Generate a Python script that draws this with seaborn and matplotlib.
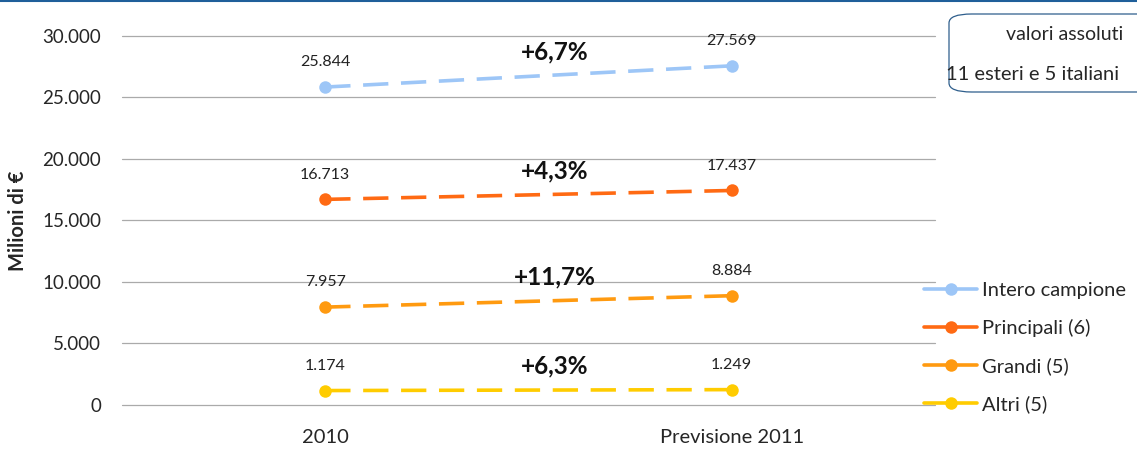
import matplotlib
matplotlib.use("Agg")
import matplotlib.pyplot as plt
import matplotlib.ticker as mticker
from matplotlib.lines import Line2D
from matplotlib.patches import FancyBboxPatch
import seaborn as sns
import pandas as pd

# data
anni = ["2010", "Previsione 2011"]
serie = ["Intero campione", "Principali (6)", "Grandi (5)", "Altri (5)"]
valori_2010 = [25844, 16713, 7957, 1174]
valori_2011 = [27569, 17437, 8884, 1249]
variazioni = ["+6,7%", "+4,3%", "+11,7%", "+6,3%"]
colori = ["#9DC6F7", "#FF6A13", "#FF9A10", "#FFCC00"]

rows = []
for s, a, b in zip(serie, valori_2010, valori_2011):
    rows.append({"serie": s, "x": 0, "valore": a})
    rows.append({"serie": s, "x": 1, "valore": b})
df = pd.DataFrame(rows)

sns.set_style("white")
plt.rcParams["font.family"] = ["Lato", "DejaVu Sans"]

fig = plt.figure(figsize=(11.37, 4.49), dpi=100)
ax = fig.add_axes([0.1073, 0.098, 0.715, 0.822])

sns.lineplot(data=df, x="x", y="valore", hue="serie", palette=colori,
             hue_order=serie, marker="o", markersize=9, markeredgewidth=0,
             linewidth=2.6, linestyle=(0, (7, 3.5)), legend=False, ax=ax)

def fmt(v):
    return f"{v:,.0f}".replace(",", ".")

for s, a, b, p in zip(serie, valori_2010, valori_2011, variazioni):
    ax.annotate(fmt(a), (0, a), xytext=(0, 15), textcoords="offset points",
                ha="center", fontsize=11.5, color="#222222")
    ax.annotate(fmt(b), (1, b), xytext=(0, 15), textcoords="offset points",
                ha="center", fontsize=11.5, color="#222222")
    ax.annotate(p, (0.565, (a + b) / 2), xytext=(0, 12), textcoords="offset points",
                ha="center", fontsize=17.5, fontweight="bold", color="#111111")

ax.set_xlim(-0.5, 1.5)
ax.set_ylim(0, 30000)
ax.set_xticks([0, 1])
ax.set_xticklabels(anni, fontsize=14.5)
ax.yaxis.set_major_locator(mticker.MultipleLocator(5000))
ax.yaxis.set_major_formatter(mticker.FuncFormatter(lambda v, _: fmt(v)))
ax.tick_params(axis="y", labelsize=13.5, length=0, pad=15)
ax.tick_params(axis="x", length=0, pad=17)
ax.grid(axis="y", color="#AAAAAA", linewidth=0.9)
for g in ax.get_ygridlines():
    g.set_clip_on(False)
for sp in ax.spines.values():
    sp.set_visible(False)
ax.set_xlabel("")
ax.set_ylabel("Milioni di €", fontsize=14.5, fontweight="bold", labelpad=10)

handles = [Line2D([0], [0], color=c, lw=2.6, marker="o", markersize=9,
                  markeredgewidth=0) for c in colori]
fig.legend(handles, serie, loc="upper left", bbox_to_anchor=(0.806, 0.39),
           frameon=False, fontsize=14.5, handlelength=2.6, handletextpad=0.25,
           labelspacing=0.99, borderaxespad=0)

# rounded note box, partly cut by the right edge
box = FancyBboxPatch((949 / 1137, 1 - 92 / 449), 0.2, 78 / 449,
                     boxstyle="round,pad=0,rounding_size=0.02",
                     transform=fig.transFigure, facecolor="white",
                     edgecolor="#2E5E8C", linewidth=0.9)
fig.patches.append(box)
fig.text(1123 / 1137, 1 - 35 / 449, "valori assoluti", ha="right", va="center", fontsize=14)
fig.text(946 / 1137, 1 - 74 / 449, "11 esteri e 5 italiani", ha="left", va="center", fontsize=14.5)

# dark blue rule along the top edge
fig.add_artist(Line2D([0, 1], [0.998, 0.998], transform=fig.transFigure,
                      color="#1F5F9A", linewidth=1.5))

fig.savefig("out.png", dpi=100)
